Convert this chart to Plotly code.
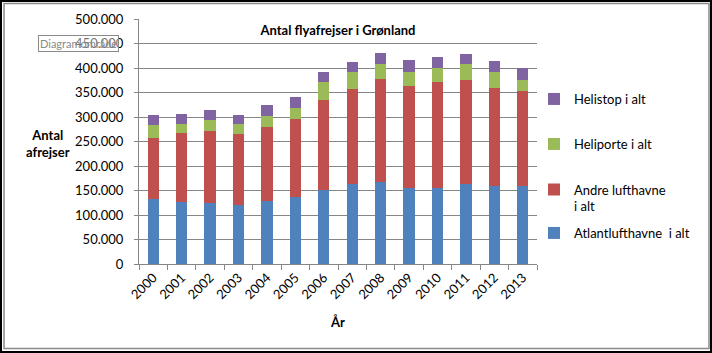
import plotly.graph_objects as go

years = [str(y) for y in range(2000, 2014)]
atlant = [133000, 127000, 125000, 121000, 129000, 137000, 151000, 163000, 168000, 155000, 155000, 163000, 159000, 159000]
andre = [125000, 140000, 147000, 144000, 151000, 159000, 184000, 195000, 210000, 208000, 217000, 213000, 200000, 194000]
heliporte = [25000, 19000, 22000, 20000, 23000, 23000, 37000, 33000, 31000, 29000, 29000, 33000, 33000, 23000]
helistop = [22000, 20000, 20000, 20000, 22000, 22000, 20000, 22000, 22000, 24000, 22000, 20000, 22000, 24000]

series_names = ["Atlantlufthavne  i alt", "Andre lufthavne<br>i alt", "Heliporte i alt", "Helistop i alt"]
series_colors = ["#4F81BD", "#C0504D", "#9BBB59", "#8064A2"]

W, H = 712, 353
L, R, T, B = 139, 175, 19, 89
PW, PH = W - L - R, H - T - B


def px(x):
    return (x - L) / PW


def py(y):
    return (H - B - y) / PH


FONT = "Lato"
fig = go.Figure()
legends = ["legend4", "legend3", "legend2", "legend"]
for vals, name, col, lg in zip([atlant, andre, heliporte, helistop], series_names, series_colors, legends):
    fig.add_trace(go.Bar(x=years, y=vals, name=name, marker=dict(color=col, line=dict(width=0)), legend=lg))

leg_common = dict(font=dict(family=FONT, size=13, color="#000"), bgcolor="rgba(0,0,0,0)",
                  xanchor="left", yanchor="middle", valign="top", itemclick=False)
leg_x = px(534)
fig.update_layout(
    legend=dict(x=leg_x, y=py(99), **leg_common),
    legend2=dict(x=leg_x, y=py(144), **leg_common),
    legend3=dict(x=leg_x, y=py(198), **leg_common),
    legend4=dict(x=leg_x, y=py(233), **leg_common),
)

fig.update_layout(
    width=W, height=H,
    margin=dict(l=L, r=R, t=T, b=B, pad=0),
    barmode="stack", bargap=0.6,
    paper_bgcolor="white", plot_bgcolor="white",
    separators=",.",
    font=dict(family=FONT, size=13, color="#000"),
    title=dict(text="<b>Antal flyafrejser i Grønland</b>", x=0.5, xref="paper", xanchor="center",
               y=1 - 30 / H, yanchor="middle", font=dict(family=FONT, size=13, color="#000")),
    showlegend=True,
    xaxis=dict(type="category", showgrid=False, showline=True, linecolor="#868686", linewidth=1,
               ticks="outside", ticklen=5, tickcolor="#868686", tickson="boundaries",
               tickangle=-45, tickfont=dict(family=FONT, size=13, color="#000"),
               title=dict(text="<b>År</b>", font=dict(family=FONT, size=13, color="#000"), standoff=16)),
    yaxis=dict(range=[0, 500000], dtick=50000, tickformat=",", showgrid=True, gridcolor="#868686",
               gridwidth=1, showline=True, linecolor="#868686", linewidth=1, ticks="outside",
               ticklen=4, tickcolor="#868686", zeroline=False,
               tickfont=dict(family=FONT, size=13, color="#000"), ticklabelstandoff=8),
)

fig.add_annotation(text="<b>Antal<br>afrejser</b>", xref="paper", yref="paper", x=px(48), y=py(143),
                   xanchor="center", yanchor="middle", showarrow=False,
                   font=dict(family=FONT, size=13, color="#000"))

fig.add_annotation(text="Diagramområde", xref="paper", yref="paper", x=px(78), y=py(43.5),
                   xanchor="center", yanchor="middle", showarrow=False,
                   font=dict(family=FONT, size=11, color="#8a8a8a"),
                   bgcolor="rgba(255,255,255,0.45)", bordercolor="#8a8a8a", borderwidth=1, borderpad=1)

# chart border (outer black, inner grey)
fig.add_shape(type="rect", xref="paper", yref="paper", x0=px(1), x1=px(711), y0=py(352), y1=py(1),
              line=dict(color="#000", width=2), layer="above")
fig.add_shape(type="rect", xref="paper", yref="paper", x0=px(4), x1=px(709), y0=py(348.5), y1=py(3.5),
              line=dict(color="#8a8a8a", width=1.5), layer="above")

fig.write_html("out.html")
